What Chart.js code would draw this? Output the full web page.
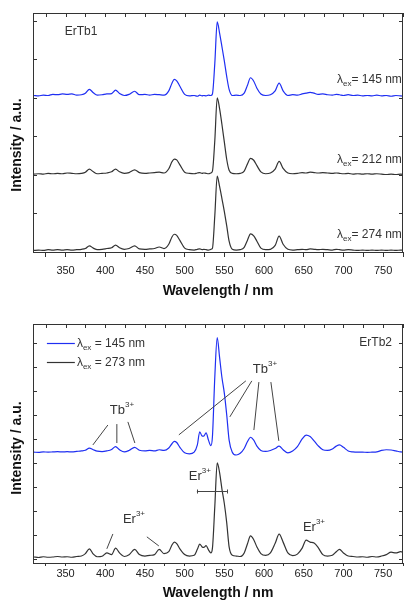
<!DOCTYPE html>
<html>
<head>
<meta charset="utf-8">
<script src="https://cdn.jsdelivr.net/npm/chart.js@4.4.0/dist/chart.umd.min.js"></script>
<style>
    body { margin: 0; background: #fff; }
    canvas { position: absolute; left: 0; }
    #graf1 { top: 0; }
    #graf2 { top: 300px; }
</style>
</head>
<body>
<canvas id="graf1" width="404" height="300"></canvas>
<canvas id="graf2" width="404" height="300"></canvas>
<script>
// comprimentos de onda (nm)
var comprimentos = [
    310, 316, 322, 328, 334, 340, 346, 352, 358, 364,
    370, 375, 380, 385, 390, 396, 402, 408, 413, 418,
    424, 430, 437, 443, 450, 456, 462, 468, 474, 480,
    484, 487, 490, 494, 500, 506, 512, 516, 519, 522,
    524, 527, 530, 533, 535, 538, 541, 544, 547, 550,
    553, 556, 560, 565, 570, 575, 579, 583, 587, 591,
    596, 602, 608, 614, 619, 624, 630, 636, 642, 648,
    653, 658, 663, 668, 674, 680, 686, 691, 695, 700,
    706, 712, 718, 724, 730, 736, 742, 748, 754, 760,
    766, 772, 778
];

// ErTb1, espectros deslocados
var erTb1_145 = [
    4.06, 4.05, 4.07, 4.06, 4.09, 4.08, 4.10, 4.09, 4.10, 4.07,
    4.08, 4.12, 4.22, 4.13, 4.07, 4.08, 4.10, 4.11, 4.20, 4.11,
    4.06, 4.09, 4.17, 4.08, 4.09, 4.07, 4.09, 4.08, 4.07, 4.18,
    4.38, 4.48, 4.44, 4.30, 4.09, 4.05, 4.06, 4.04, 4.07, 4.05,
    4.06, 4.05, 4.07, 4.06, 4.10, 4.90, 5.97, 5.68, 5.32, 4.95,
    4.55, 4.22, 4.06, 4.07, 4.06, 4.12, 4.32, 4.52, 4.43, 4.25,
    4.10, 4.06, 4.08, 4.18, 4.38, 4.18, 4.06, 4.08, 4.07, 4.10,
    4.12, 4.14, 4.12, 4.09, 4.10, 4.08, 4.07, 4.09, 4.08, 4.06,
    4.08, 4.06, 4.07, 4.05, 4.06, 4.05, 4.07, 4.05, 4.06, 4.04,
    4.06, 4.05, 4.04
];
var erTb1_212 = [
    2.02, 2.03, 2.02, 2.04, 2.03, 2.04, 2.03, 2.05, 2.04, 2.03,
    2.04, 2.07, 2.15, 2.08, 2.03, 2.04, 2.05, 2.08, 2.15, 2.08,
    2.04, 2.06, 2.13, 2.06, 2.04, 2.05, 2.06, 2.07, 2.05, 2.16,
    2.34, 2.41, 2.39, 2.26, 2.07, 2.04, 2.03, 2.05, 2.06, 2.04,
    2.05, 2.04, 2.03, 2.05, 2.10, 2.90, 4.00, 3.72, 3.30, 2.85,
    2.40, 2.12, 2.04, 2.03, 2.04, 2.10, 2.28, 2.43, 2.38, 2.24,
    2.08, 2.03, 2.05, 2.15, 2.35, 2.17, 2.05, 2.03, 2.04, 2.06,
    2.05, 2.07, 2.06, 2.05, 2.06, 2.05, 2.04, 2.05, 2.04, 2.03,
    2.04, 2.02, 2.03, 2.02, 2.03, 2.02, 2.03, 2.02, 2.01, 2.02,
    2.01, 2.02, 2.00
];
var erTb1_274 = [
    0.04, 0.05, 0.04, 0.06, 0.05, 0.06, 0.05, 0.06, 0.05, 0.06,
    0.07, 0.09, 0.16, 0.10, 0.06, 0.07, 0.09, 0.11, 0.18, 0.11,
    0.07, 0.09, 0.16, 0.08, 0.07, 0.08, 0.09, 0.13, 0.09, 0.20,
    0.39, 0.46, 0.43, 0.30, 0.10, 0.06, 0.05, 0.07, 0.08, 0.06,
    0.07, 0.06, 0.05, 0.07, 0.10, 0.95, 1.97, 1.70, 1.38, 1.05,
    0.68, 0.28, 0.07, 0.05, 0.06, 0.12, 0.30, 0.47, 0.42, 0.28,
    0.10, 0.06, 0.07, 0.17, 0.41, 0.20, 0.07, 0.05, 0.06, 0.07,
    0.06, 0.08, 0.07, 0.06, 0.07, 0.06, 0.05, 0.07, 0.06, 0.05,
    0.06, 0.05, 0.04, 0.05, 0.04, 0.05, 0.04, 0.05, 0.04, 0.05,
    0.04, 0.05, 0.04
];

// ErTb2
var erTb2_145 = [
    4.45, 4.44, 4.46, 4.45, 4.46, 4.47, 4.46, 4.47, 4.46, 4.48,
    4.50, 4.53, 4.62, 4.55, 4.49, 4.47, 4.50, 4.56, 4.68, 4.55,
    4.46, 4.52, 4.65, 4.53, 4.50, 4.52, 4.50, 4.55, 4.52, 4.62,
    4.80, 4.90, 4.85, 4.65, 4.42, 4.38, 4.45, 4.75, 5.30, 5.12,
    5.12, 5.25, 4.95, 4.72, 5.10, 7.60, 9.22, 8.40, 7.55, 6.90,
    6.00, 4.95, 4.45, 4.33, 4.40, 4.60, 4.88, 5.07, 4.95, 4.70,
    4.52, 4.48, 4.52, 4.60, 4.70, 4.55, 4.42, 4.50, 4.68, 5.00,
    5.16, 5.10, 4.92, 4.72, 4.55, 4.52, 4.58, 4.70, 4.75, 4.65,
    4.50, 4.46, 4.45, 4.45, 4.44, 4.45, 4.46, 4.52, 4.55, 4.54,
    4.50, 4.46, 4.45
];
var erTb2_273 = [
    0.08, 0.06, 0.09, 0.07, 0.08, 0.10, 0.08, 0.09, 0.07, 0.10,
    0.12, 0.22, 0.42, 0.20, 0.09, 0.11, 0.25, 0.18, 0.45, 0.25,
    0.10, 0.17, 0.40, 0.18, 0.12, 0.15, 0.18, 0.40, 0.22, 0.30,
    0.58, 0.70, 0.64, 0.42, 0.18, 0.12, 0.15, 0.40, 0.62, 0.50,
    0.48, 0.55, 0.38, 0.25, 0.45, 2.20, 4.00, 3.60, 2.90, 2.30,
    1.50, 0.50, 0.15, 0.12, 0.10, 0.25, 0.62, 0.96, 0.80, 0.50,
    0.22, 0.15, 0.25, 0.65, 1.03, 0.70, 0.25, 0.14, 0.20, 0.45,
    0.78, 0.70, 0.66, 0.48, 0.18, 0.12, 0.15, 0.30, 0.40, 0.25,
    0.12, 0.10, 0.08, 0.09, 0.07, 0.10, 0.08, 0.12, 0.18, 0.28,
    0.25, 0.30, 0.22
];

var xTicks = [325, 350, 375, 400, 425, 450, 475, 500, 525, 550, 575, 600, 625, 650, 675, 700, 725, 750, 775];
var xRotulos = [350, 400, 450, 500, 550, 600, 650, 700, 750];
var yTicks1 = [0, 1, 2, 3, 4, 5, 6];
var yTicks2 = [0, 1, 2, 3, 4, 5, 6, 7, 8, 9];

var fonte = '"Liberation Sans", Arial, sans-serif';
var azul = '#1f2ff2';
var preto = '#333333';

function pontos(serie) {
    return comprimentos.map(function (x, i) {
        return { x: x, y: serie[i] };
    });
}

function lambda(resto) {
    return [{ t: '\u03bb' }, { t: 'ex', tam: 8, dy: 3 }, { t: resto }];
}

function ion(nome, tam) {
    return [{ t: nome, tam: tam }, { t: '3+', tam: 8, dy: -6.5 }];
}

function desenharTexto(ctx, partes, x, y, alinhar) {
    var largura = 0;
    partes.forEach(function (p) {
        ctx.font = (p.tam || 12) + 'px ' + fonte;
        p.w = ctx.measureText(p.t).width;
        largura += p.w;
    });
    var cx = alinhar == 'right' ? x - largura : x;
    ctx.textAlign = 'left';
    ctx.textBaseline = 'alphabetic';
    partes.forEach(function (p) {
        ctx.font = (p.tam || 12) + 'px ' + fonte;
        ctx.fillText(p.t, cx, y + (p.dy || 0));
        cx += p.w;
    });
}

function criarExtras(cfg) {
    return {
        id: 'extras',
        afterDraw: function (chart) {
            var ctx = chart.ctx;
            var a = chart.chartArea;
            var sx = chart.scales.x;
            var sy = chart.scales.y;
            var px = function (v) { return Math.round(sx.getPixelForValue(v)) + 0.5; };
            var py = function (v) { return Math.round(sy.getPixelForValue(v)) + 0.5; };

            ctx.save();
            ctx.strokeStyle = preto;
            ctx.lineWidth = 1;
            ctx.strokeRect(a.left + 0.5, a.top + 0.5, a.right - a.left - 1, a.bottom - a.top);

            // ticks para dentro
            ctx.beginPath();
            xTicks.forEach(function (v) {
                ctx.moveTo(px(v), a.top);
                ctx.lineTo(px(v), a.top + 4);
            });
            cfg.yTicks.forEach(function (v) {
                ctx.moveTo(a.left, py(v));
                ctx.lineTo(a.left + 4, py(v));
                ctx.moveTo(a.right, py(v));
                ctx.lineTo(a.right - 4, py(v));
            });
            ctx.stroke();

            // linhas de anotacao
            ctx.strokeStyle = '#444';
            ctx.beginPath();
            (cfg.linhas || []).forEach(function (l) {
                ctx.moveTo(sx.getPixelForValue(l[0]), sy.getPixelForValue(l[1]));
                ctx.lineTo(sx.getPixelForValue(l[2]), sy.getPixelForValue(l[3]));
            });
            if (cfg.barra) {
                var b = cfg.barra;
                var yb = py(b.y);
                ctx.moveTo(sx.getPixelForValue(b.x0), yb);
                ctx.lineTo(sx.getPixelForValue(b.x1), yb);
                ctx.moveTo(px(b.x0), yb - 2);
                ctx.lineTo(px(b.x0), yb + 2);
                ctx.moveTo(px(b.x1), yb - 2);
                ctx.lineTo(px(b.x1), yb + 2);
            }
            ctx.stroke();

            // legenda
            if (cfg.legenda) {
                var lg = cfg.legenda;
                chart.data.datasets.forEach(function (ds, i) {
                    ctx.strokeStyle = ds.borderColor;
                    ctx.lineWidth = 1.2;
                    ctx.beginPath();
                    ctx.moveTo(sx.getPixelForValue(lg.x0), py(lg.ys[i]));
                    ctx.lineTo(sx.getPixelForValue(lg.x1), py(lg.ys[i]));
                    ctx.stroke();
                    ctx.fillStyle = preto;
                    desenharTexto(ctx, lambda(ds.label), sx.getPixelForValue(lg.xt), sy.getPixelForValue(lg.ys[i]) + 4.5, 'left');
                });
            }

            ctx.fillStyle = preto;
            cfg.textos.forEach(function (t) {
                desenharTexto(ctx, t.partes, sx.getPixelForValue(t.x), sy.getPixelForValue(t.y), t.alinhar);
            });

            // titulo do eixo y
            ctx.fillStyle = '#111';
            ctx.translate(17, cfg.tituloY);
            ctx.rotate(-Math.PI / 2);
            ctx.font = 'bold 14px ' + fonte;
            ctx.textAlign = 'center';
            ctx.textBaseline = 'middle';
            ctx.fillText('Intensity / a.u.', 0, 0);
            ctx.restore();
        }
    };
}

function opcoes(cfg) {
    return {
        responsive: false,
        animation: false,
        layout: { padding: { left: 33, top: cfg.topo, right: 1, bottom: 0 } },
        plugins: { legend: { display: false }, tooltip: { enabled: false } },
        elements: {
            point: { radius: 0 },
            line: { borderWidth: 1.2, cubicInterpolationMode: 'monotone' }
        },
        scales: {
            x: {
                type: 'linear',
                min: 309,
                max: 775,
                afterBuildTicks: function (s) {
                    s.ticks = xTicks.map(function (v) { return { value: v }; });
                },
                afterFit: function (s) {
                    s.height = cfg.alturaX;
                    s.paddingLeft = 0;
                    s.paddingRight = 0;
                },
                ticks: {
                    autoSkip: false,
                    maxRotation: 0,
                    minRotation: 0,
                    padding: cfg.padTick,
                    color: '#222',
                    font: { size: 11, family: fonte },
                    callback: function (v) {
                        return xRotulos.indexOf(v) >= 0 ? String(v) : '';
                    }
                },
                grid: { drawOnChartArea: false, tickLength: cfg.tickLen, color: preto },
                border: { display: true, color: preto },
                title: {
                    display: true,
                    text: 'Wavelength / nm',
                    color: '#111',
                    font: { size: 14, weight: 'bold', family: fonte, lineHeight: 1 },
                    padding: { top: 0, bottom: cfg.padTitulo }
                }
            },
            y: { display: false, min: cfg.yMin, max: cfg.yMax }
        }
    };
}

var cfg1 = {
    topo: 13, alturaX: 48, padTick: 7, tickLen: 5, padTitulo: 1.5,
    yMin: 0, yMax: 6.2, yTicks: yTicks1, tituloY: 145,
    textos: [
        { partes: [{ t: 'ErTb1' }], x: 349, y: 5.63, alinhar: 'left' },
        { partes: lambda('= 145 nm'), x: 773.5, y: 4.38, alinhar: 'right' },
        { partes: lambda('= 212 nm'), x: 773.5, y: 2.31, alinhar: 'right' },
        { partes: lambda('= 274 nm'), x: 773.5, y: 0.36, alinhar: 'right' }
    ]
};

var cfg2 = {
    topo: 24, alturaX: 37, padTick: 1, tickLen: 3, padTitulo: 0,
    yMin: -0.17, yMax: 9.79, yTicks: yTicks2, tituloY: 148,
    legenda: { x0: 326.5, x1: 361.7, xt: 364.3, ys: [9.0, 8.21] },
    textos: [
        { partes: [{ t: 'ErTb2' }], x: 761.2, y: 8.87, alinhar: 'right' },
        { partes: ion('Tb', 13), x: 405.8, y: 6.04, alinhar: 'left' },
        { partes: ion('Tb', 13), x: 585.8, y: 7.75, alinhar: 'left' },
        { partes: ion('Er', 13), x: 505.3, y: 3.29, alinhar: 'left' },
        { partes: ion('Er', 13), x: 422.2, y: 1.5, alinhar: 'left' },
        { partes: ion('Er', 13), x: 648.9, y: 1.17, alinhar: 'left' }
    ],
    linhas: [
        [403.3, 5.58, 384.4, 4.75],
        [414.6, 5.62, 414.6, 4.83],
        [428.5, 5.71, 437.3, 4.83],
        [577.1, 7.42, 492.7, 5.17],
        [584.6, 7.42, 556.9, 5.92],
        [593.5, 7.37, 587.2, 5.37],
        [608.6, 7.37, 618.6, 4.92],
        [409.6, 1.04, 402.0, 0.42],
        [452.4, 0.92, 467.5, 0.54]
    ],
    barra: { x0: 515.4, x1: 553.2, y: 2.83 }
};

new Chart(document.getElementById('graf1'), {
    type: 'line',
    data: {
        datasets: [
            { label: '= 145 nm', data: pontos(erTb1_145), borderColor: azul },
            { label: '= 212 nm', data: pontos(erTb1_212), borderColor: preto },
            { label: '= 274 nm', data: pontos(erTb1_274), borderColor: preto }
        ]
    },
    options: opcoes(cfg1),
    plugins: [criarExtras(cfg1)]
});

new Chart(document.getElementById('graf2'), {
    type: 'line',
    data: {
        datasets: [
            { label: ' = 145 nm', data: pontos(erTb2_145), borderColor: azul },
            { label: ' = 273 nm', data: pontos(erTb2_273), borderColor: preto }
        ]
    },
    options: opcoes(cfg2),
    plugins: [criarExtras(cfg2)]
});
</script>
</body>
</html>
